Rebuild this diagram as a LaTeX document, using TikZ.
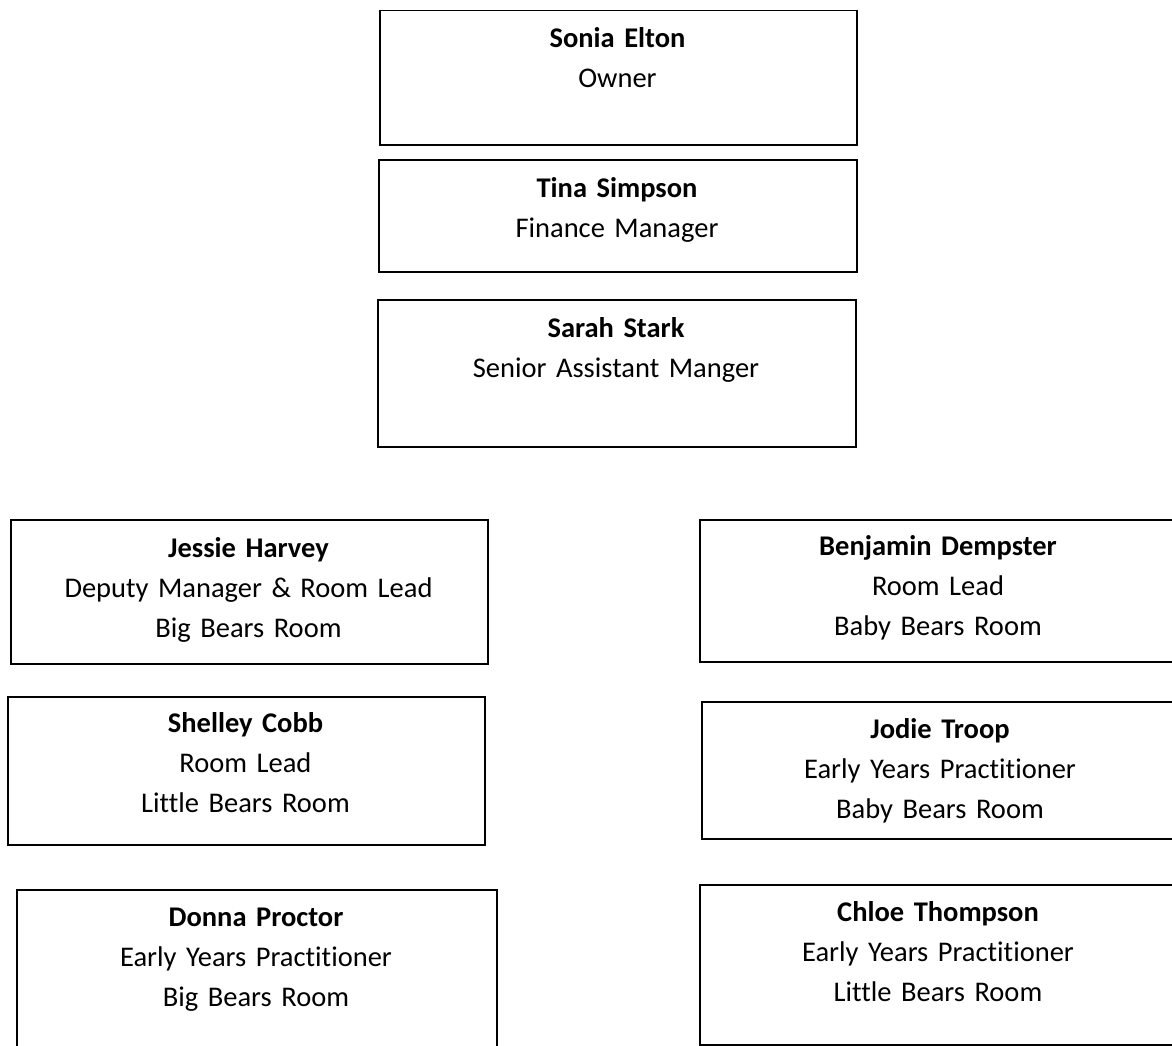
\documentclass[tikz,border=0pt]{standalone}
\usepackage{fontspec}
\setmainfont{Carlito}[Ligatures=CommonOff]
\tikzset{
  boxst/.style={draw=black, line width=1.5pt, rectangle, inner sep=0pt, fill=none},
  txt/.style={inner sep=0pt, align=center, font=\fontsize{28.5}{40}\selectfont}
}
% #1 name, #2 x1, #3 y1, #4 x2, #5 y2, #6 first baseline, #7 text
\newcommand\orgbox[7]{%
  \node[boxst, minimum width={#4-#2}, minimum height={#5-#3}, anchor=north west] (#1) at (#2,#3) {};
  \node[txt, text width={(#4-#2)*1pt}, anchor=base] (#1-t) at ({(#2+#4)/2},#6) {#7};
}
\begin{document}
\begin{tikzpicture}[x=1pt,y=-1pt]
\useasboundingbox (0,0) rectangle (1172,1046);
\clip (0,0) rectangle (1172,1046);
\orgbox{sonia}{379}{10}{856}{144}{48}{\textbf{Sonia Elton}\\Owner}
\orgbox{tina}{378}{159}{856}{271}{197}{\textbf{Tina Simpson}\\Finance Manager}
\orgbox{sarah}{377}{299}{855}{446}{337}{\textbf{Sarah Stark}\\Senior Assistant Manger}
\orgbox{jessie}{10}{519}{487}{663}{557}{\textbf{Jessie Harvey}\\Deputy Manager \& Room Lead\\Big Bears Room}
\orgbox{benjamin}{699}{519}{1177}{661}{555}{\textbf{Benjamin Dempster}\\Room Lead\\Baby Bears Room}
\orgbox{shelley}{7}{696}{484}{844}{732}{\textbf{Shelley Cobb}\\Room Lead\\Little Bears Room}
\orgbox{jodie}{701}{701}{1179}{838}{738}{\textbf{Jodie Troop}\\Early Years Practitioner\\Baby Bears Room}
\orgbox{donna}{16}{889}{496}{1060}{926}{\textbf{Donna Proctor}\\Early Years Practitioner\\Big Bears Room}
\orgbox{chloe}{699}{884}{1177}{1044}{921}{\textbf{Chloe Thompson}\\Early Years Practitioner\\Little Bears Room}
\end{tikzpicture}
\end{document}
